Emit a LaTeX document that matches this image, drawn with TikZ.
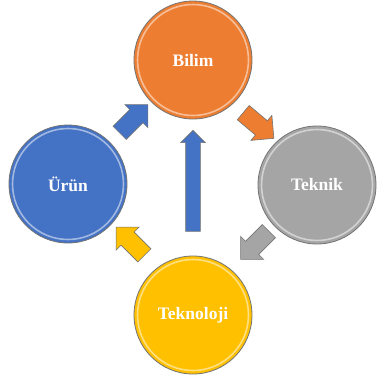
\documentclass[tikz,border=0pt]{standalone}
\usepackage{fontspec}
\setmainfont{Liberation Serif}
\usetikzlibrary{shapes.arrows, calc}
\definecolor{COrange}{HTML}{ED7D31}
\definecolor{CGray}{HTML}{A5A5A5}
\definecolor{CBlue}{HTML}{4472C4}
\definecolor{CYellow}{HTML}{FFC000}

\begin{document}
\begin{tikzpicture}[x=1pt, y=-1pt,
    topic/.style={circle, draw=black!55, line width=0.8pt, minimum size=118pt, inner sep=0pt,
        text=white, font=\bfseries\fontsize{17.5}{20}\selectfont,
        path picture={\draw[white, opacity=0.5, line width=1.6pt]
            (path picture bounding box.center) circle (55.5pt);}},
    flow/.style={single arrow, draw=black!55, line width=0.6pt, inner sep=9pt,
        single arrow head extend=7pt, minimum height=40pt, anchor=center}
]
    \useasboundingbox (0,0) rectangle (378,376);

    % circles
    \node[topic, fill=COrange] (bilim) at (193,60) {Bilim};
    \node[topic, fill=CGray] (teknik) at (317,185) {Teknik};
    \node[topic, fill=CBlue] (urun) at (68,184) {Ürün};
    \node[topic, fill=CYellow] (teknoloji) at (193,315) {Teknoloji};

    % cycle arrows
    \node[flow, fill=CBlue, rotate=45] (a1) at ($(urun)!0.5!(bilim)$) {};
    \node[flow, fill=COrange, rotate=-40] (a2) at ($(bilim)!0.5!(teknik)$) {};
    \node[flow, fill=CGray, rotate=-135] (a3) at ($(teknik)!0.5!(teknoloji)+(3,-8)$) {};
    \node[flow, fill=CYellow, rotate=135] (a4) at ($(teknoloji)!0.5!(urun)+(3,-5)$) {};

    % long arrow up the middle
    \node[flow, fill=CBlue, rotate=90, inner sep=7pt, single arrow head extend=5pt,
        minimum height=101pt] (a5) at ($(teknoloji.north)!0.5!(bilim.south)+(0,-3)$) {};
\end{tikzpicture}
\end{document}
